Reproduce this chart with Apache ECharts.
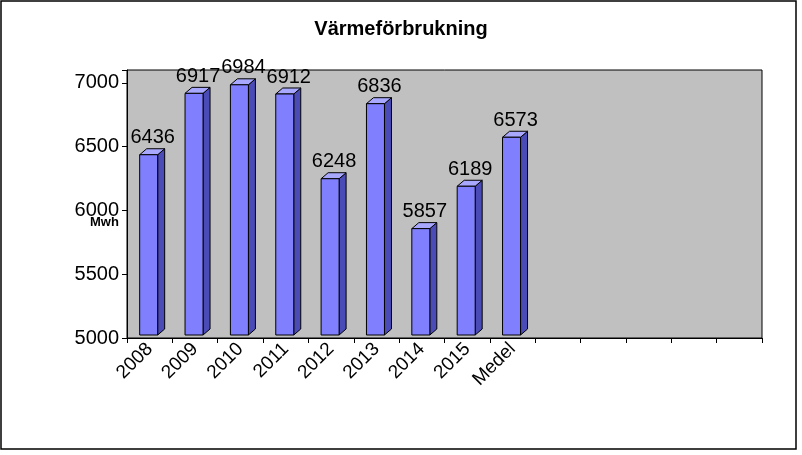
<!DOCTYPE html>
<html><head><meta charset="utf-8">
<script src="https://cdn.jsdelivr.net/npm/echarts@6/dist/echarts.min.js"></script>
<style>html,body{margin:0;padding:0;background:#fff}#c{width:802px;height:455px}</style>
</head><body><div id="c"></div>
<script>
const categories = ['2008','2009','2010','2011','2012','2013','2014','2015','Medel','','','','',''];
const values = [6436,6917,6984,6912,6248,6836,5857,6189,6573];
const yTicks = [5000,5500,6000,6500,7000];
const chart = echarts.init(document.getElementById('c'));
const data = values.map((v,i)=>[i,v]);
chart.setOption({
  animation:false,
  title:{text:'Värmeförbrukning',left:'center',top:14,textStyle:{fontFamily:'Liberation Sans, Arial',fontWeight:'bold',fontSize:20,color:'#000'}},
  graphic:[
    {type:'rect',shape:{x:1,y:1,width:795,height:448},style:{fill:'none',stroke:'#000',lineWidth:1.5}},
    {type:'text',left:90,top:216,style:{text:'Mwh',font:'bold 13px Liberation Sans, Arial',fill:'#000'}}
  ],
  grid:{left:127,right:40,top:70,bottom:117,show:true,backgroundColor:'#c0c0c0',borderColor:'#000',borderWidth:1},
  xAxis:{type:'category',data:categories,boundaryGap:true,
    axisLine:{lineStyle:{color:'#000'}},axisTick:{show:true,lineStyle:{color:'#000'}},
    axisLabel:{rotate:45,fontSize:19,color:'#000',fontFamily:'Liberation Sans, Arial',interval:0,margin:8}},
  yAxis:{type:'value',min:5000,max:7100,interval:500,
    axisLine:{show:true,lineStyle:{color:'#000'}},axisTick:{show:true,lineStyle:{color:'#000'}},
    splitLine:{show:false},
    axisLabel:{fontSize:20,color:'#000',fontFamily:'Liberation Sans, Arial',
      formatter:v=>yTicks.includes(v)?String(v):''}},
  series:[{type:'custom',data:data,
    renderItem:function(params,api){
      const p=api.coord([api.value(0),api.value(1)]);
      const b=api.coord([api.value(0),5000]);
      const w=18,dx=7,dy=-6,x=p[0]-10,t=p[1],bt=b[1]-3;
      const st={stroke:'#000',lineWidth:1};
      return {type:'group',children:[
        {type:'polygon',shape:{points:[[x+w,t],[x+w+dx,t+dy],[x+w+dx,bt+dy],[x+w,bt]]},style:Object.assign({fill:'#4b4bb8'},st)},
        {type:'polygon',shape:{points:[[x,t],[x+dx,t+dy],[x+w+dx,t+dy],[x+w,t]]},style:Object.assign({fill:'#a8a8ff'},st)},
        {type:'rect',shape:{x:x,y:t,width:w,height:bt-t},style:Object.assign({fill:'#8080ff'},st)},
        {type:'text',style:{text:String(api.value(1)),x:p[0]+3,y:t-7,align:'center',verticalAlign:'bottom',font:'20px Liberation Sans, Arial',fill:'#000'}}
      ]};
    }}]
});
</script></body></html>
